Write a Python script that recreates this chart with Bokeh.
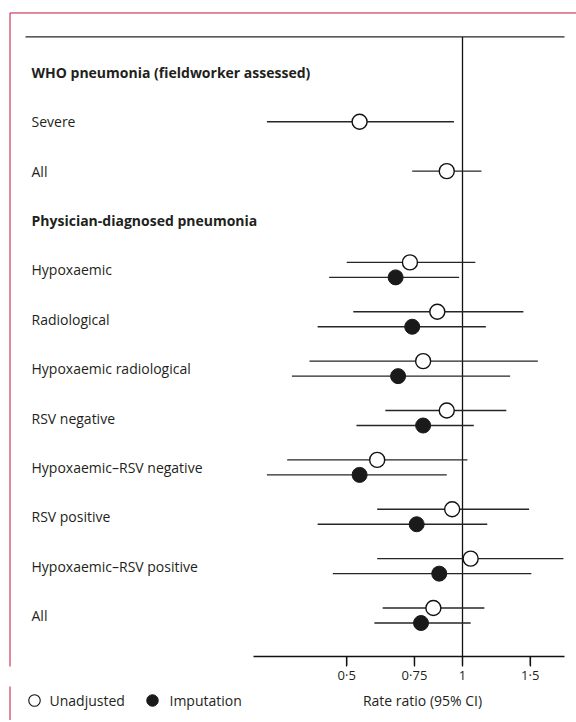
import numpy as np
from bokeh.plotting import figure
from bokeh.layouts import column
from bokeh.models import ColumnDataSource, Range1d, FixedTicker, CustomJSTickFormatter
from bokeh.core.properties import value
from bokeh.embed import file_html
from bokeh.resources import INLINE

# ---------------- data ----------------
section_titles = ["WHO pneumonia (fieldworker assessed)", "Physician-diagnosed pneumonia"]

who_outcomes = ["Severe", "All"]
who_rr = [0.54, 0.91]
who_lo = [0.31, 0.74]
who_hi = [0.95, 1.12]

phys_outcomes = ["Hypoxaemic", "Radiological", "Hypoxaemic radiological", "RSV negative",
                 "Hypoxaemic\u2013RSV negative", "RSV positive",
                 "Hypoxaemic\u2013RSV positive", "All"]
unadj_rr = [0.73, 0.86, 0.79, 0.91, 0.60, 0.94, 1.05, 0.84]
unadj_lo = [0.50, 0.52, 0.40, 0.63, 0.35, 0.60, 0.60, 0.62]
unadj_hi = [1.08, 1.44, 1.57, 1.30, 1.03, 1.49, 1.83, 1.14]
imp_rr = [0.67, 0.74, 0.68, 0.79, 0.54, 0.76, 0.87, 0.78]
imp_lo = [0.45, 0.42, 0.36, 0.53, 0.31, 0.42, 0.46, 0.59]
imp_hi = [0.98, 1.15, 1.33, 1.07, 0.91, 1.16, 1.51, 1.05]

tick_values = [0.5, 0.75, 1, 1.5]
series_names = ["Unadjusted", "Imputation"]
axis_title = "Rate ratio (95% CI)"

# ---------------- layout / style (page pixels) ----------------
W = 576
ORIGIN = 0           # the page template has no body margin
X1_PX = 462.0        # page x of rate ratio 1
PX_PER_LN = 167.0    # pixels per natural-log unit
ROW0_PX = 72.0       # page y of first row
ROW_PX = 49.45       # row spacing
AXIS_LINE_PX = 657
TICK_LEN = 9
FRAME_BOTTOM_PX = 667
AXIS_PANEL = 19
H_MAIN = FRAME_BOTTOM_PX - ORIGIN + AXIS_PANEL      # 686
H_FOOT = 34
FOOT_TOP = ORIGIN + H_MAIN
PAIR_OFF = 7.5 / ROW_PX

TEXT = "#231f20"
LINE = "#262626"
RED = "#c4163f"
FONT = "Open Sans"
FS = "14px"


def px_to_x(px):
    return float(np.exp((px - X1_PX) / PX_PER_LN))


def py_to_row(py):
    return (py - ROW0_PX) / ROW_PX


x_range = Range1d(px_to_x(ORIGIN), px_to_x(ORIGIN + W))

p = figure(width=W, height=H_MAIN, x_axis_type="log", x_range=x_range,
           y_range=Range1d(py_to_row(FRAME_BOTTOM_PX), py_to_row(ORIGIN)),
           output_backend="svg", toolbar_location=None, y_axis_location=None,
           min_border_left=0, min_border_right=0, min_border_top=0,
           min_border_bottom=AXIS_PANEL)
p.grid.visible = False
p.outline_line_color = None
p.background_fill_color = "white"
p.border_fill_color = "white"

# row positions
who_header_row = 0
who_rows = [1 + i for i in range(len(who_outcomes))]
phys_header_row = who_rows[-1] + 1
phys_rows = [phys_header_row + 1 + i for i in range(len(phys_outcomes))]

x_left_text = px_to_x(31)
x_axis_lo = px_to_x(253)
x_axis_hi = px_to_x(564)
x_border = px_to_x(9.5)

# frame border (Lancet style)
p.segment(x0=[x_border], x1=[px_to_x(ORIGIN + W)], y0=[py_to_row(12.5)], y1=[py_to_row(12.5)],
          line_color=RED, line_width=1)
p.segment(x0=[x_border], x1=[x_border], y0=[py_to_row(12.5)], y1=[py_to_row(FRAME_BOTTOM_PX + 5)],
          line_color=RED, line_width=1)

# top rule, reference line at 1, axis line
p.segment(x0=[px_to_x(25)], x1=[x_axis_hi], y0=[py_to_row(36.5)], y1=[py_to_row(36.5)],
          line_color=LINE, line_width=1.3)
p.segment(x0=[1], x1=[1], y0=[py_to_row(36.5)], y1=[py_to_row(AXIS_LINE_PX)],
          line_color="#111111", line_width=1.3)
p.segment(x0=[x_axis_lo], x1=[x_axis_hi], y0=[py_to_row(AXIS_LINE_PX)], y1=[py_to_row(AXIS_LINE_PX)],
          line_color="#111111", line_width=1.3)

# tick marks hanging below the axis line (filled thin bars, screen-sized)
p.rect(x=tick_values, y=[py_to_row(AXIS_LINE_PX + TICK_LEN / 2)] * len(tick_values),
       width=1.3, height=TICK_LEN, width_units="screen", height_units="screen",
       fill_color="#111111", line_color=None)

# texts
p.text(x=[x_left_text] * 2, y=[who_header_row, phys_header_row], text=section_titles,
       text_font=value(FONT), text_font_style="bold", text_font_size=FS,
       text_baseline="middle", text_color=TEXT)
p.text(x=[x_left_text] * (len(who_outcomes) + len(phys_outcomes)),
       y=who_rows + phys_rows, text=who_outcomes + phys_outcomes,
       text_font=value(FONT), text_font_size=FS,
       text_baseline="middle", text_color=TEXT)

# data sources
unadj_src = ColumnDataSource(dict(
    rr=who_rr + unadj_rr, lo=who_lo + unadj_lo, hi=who_hi + unadj_hi,
    y=who_rows + [r - PAIR_OFF for r in phys_rows]))
imp_src = ColumnDataSource(dict(
    rr=imp_rr, lo=imp_lo, hi=imp_hi, y=[r + PAIR_OFF for r in phys_rows]))

for src in (unadj_src, imp_src):
    p.segment(x0="lo", x1="hi", y0="y", y1="y", source=src, line_color=LINE, line_width=1.4)

OPEN_STYLE = dict(fill_color="white", line_color="#111111", line_width=1.4)
FILL_STYLE = dict(fill_color="#1a1a1a", line_color="#1a1a1a", line_width=1)
p.scatter(x="rr", y="y", source=unadj_src, marker="circle", size=15, **OPEN_STYLE)
p.scatter(x="rr", y="y", source=imp_src, marker="circle", size=15, **FILL_STYLE)

# x axis: labels (its ticks also point inward, up to the axis line)
ax = p.xaxis[0]
ax.bounds = (x_axis_lo, x_axis_hi)
ax.ticker = FixedTicker(ticks=tick_values)
ax.formatter = CustomJSTickFormatter(code="return String(tick).replace('.', '\\u00b7');")
ax.axis_line_color = None
ax.major_tick_out = 0
ax.major_tick_in = FRAME_BOTTOM_PX - AXIS_LINE_PX
ax.major_tick_line_color = "#111111"
ax.major_tick_line_width = 1.2
ax.minor_tick_line_color = None
ax.major_label_standoff = -1
ax.major_label_text_font = FONT
ax.major_label_text_font_size = "13px"
ax.major_label_text_color = TEXT

# ---------------- footer: legend + axis title ----------------
f = figure(width=W, height=H_FOOT, x_axis_type="log", x_range=x_range,
           y_range=Range1d(FOOT_TOP + H_FOOT, FOOT_TOP),
           output_backend="svg", toolbar_location=None,
           x_axis_location=None, y_axis_location=None,
           min_border_left=0, min_border_right=0, min_border_top=0, min_border_bottom=0)
f.grid.visible = False
f.outline_line_color = None
f.background_fill_color = "white"
f.border_fill_color = "white"

f.segment(x0=[x_border], x1=[x_border], y0=[FOOT_TOP - 2], y1=[FOOT_TOP + H_FOOT + 2],
          line_color=RED, line_width=1)

LEG_Y = 700
f.scatter(x=[px_to_x(34)], y=[LEG_Y], marker="circle", size=11.5,
          fill_color="white", line_color="#111111", line_width=1.1)
f.scatter(x=[px_to_x(152)], y=[LEG_Y], marker="circle", size=11.5, **FILL_STYLE)
f.text(x=[px_to_x(49), px_to_x(169)], y=[LEG_Y, LEG_Y], text=series_names,
       text_font=value(FONT), text_font_size=FS, text_baseline="middle", text_color=TEXT)
f.text(x=[px_to_x(422)], y=[LEG_Y], text=[axis_title], text_align="center",
       text_font=value(FONT), text_font_size=FS, text_baseline="middle", text_color=TEXT)

layout = column(p, f, spacing=0)
open("out.html", "w").write(file_html(layout, INLINE))
